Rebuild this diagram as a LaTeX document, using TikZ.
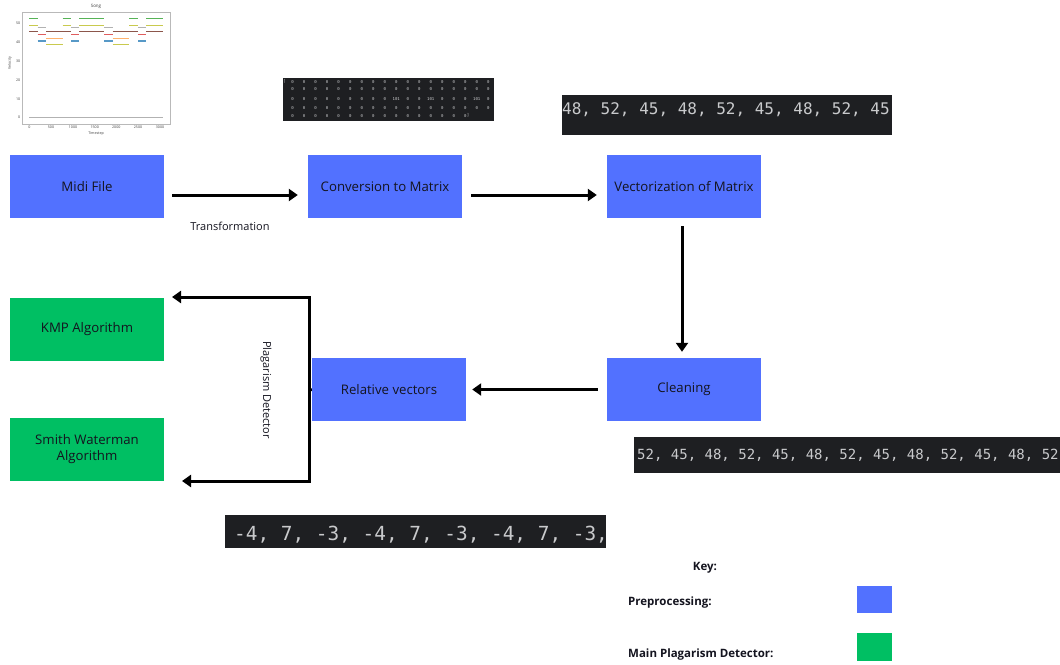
\documentclass[tikz,border=0pt]{standalone}
\usepackage{fontspec}
\setmainfont{Open Sans}
\setmonofont{DejaVu Sans Mono}
\usetikzlibrary{arrows.meta}
\definecolor{pre}{HTML}{5271FF}
\definecolor{det}{HTML}{00BF63}
\definecolor{code}{HTML}{1E1F22}
\definecolor{codetxt}{HTML}{C9CACC}
\definecolor{mblue}{HTML}{1F77B4}
\definecolor{morange}{HTML}{FF7F0E}
\definecolor{mgreen}{HTML}{2CA02C}
\definecolor{mred}{HTML}{D62728}
\definecolor{mbrown}{HTML}{8C564B}
\definecolor{mgray}{HTML}{7F7F7F}
\definecolor{molive}{HTML}{BCBD22}
\definecolor{boxtext}{HTML}{14141F}
\begin{document}
\begin{tikzpicture}[x=1pt,y=-1pt,
  box/.style={minimum width=154pt,minimum height=63pt,inner sep=0pt,text=boxtext,font=\fontsize{13.2}{16}\selectfont,align=center},
  prebox/.style={box,fill=pre},
  detbox/.style={box,fill=det},
  arr/.style={line width=3pt,-{Triangle[length=9pt,width=12pt]}},
  conn/.style={line width=3pt},
  codebg/.style={fill=code},
  codetext/.style={text=codetxt,inner sep=0pt,anchor=base west},
  seg/.style={line width=1.2pt},
  tick/.style={font=\fontsize{3.6}{4}\selectfont,text=black!75,inner sep=0pt},
  mat/.style={font=\ttfamily\fontsize{4}{4}\selectfont,text=codetxt,inner sep=0pt},
  keytext/.style={font=\bfseries\fontsize{11.5}{14}\selectfont,inner sep=0pt,text=boxtext}]
\useasboundingbox[fill=white] (0,0) rectangle (1060,664);

% ---- plot thumbnail ----
\draw[gray!55,line width=0.8pt] (22.7,12.7) rectangle (170,124);
\node[tick,font=\fontsize{4.5}{5}\selectfont] (ptitle) at (96,6.7) {Song};
\foreach \v/\yy in {0/117.7,10/99,20/80.3,30/61.3,40/42.3,50/23.7}
  \node[tick,anchor=east] (yt\v) at (20.5,\yy) {\v};
\foreach \v/\xx in {0/29.3,500/51,1000/73,1500/94.7,2000/116.3,2500/138,3000/160}
  \node[tick] (xt\v) at (\xx,127.5) {\v};
\node[tick,rotate=90] (ylab) at (10,63) {Velocity};
\node[tick] (xlab) at (96,133.3) {Timestep};
\foreach \a/\b in {29.3/37.7,62.7/71.3,79.3/104.3,129.3/138,146/163.3}{
  \draw[seg,mgreen!80] (\a,18.3) -- (\b,18.3);
  \draw[seg,molive!80] (\a,25.3) -- (\b,25.3);}
\foreach \a/\b in {37.7/46,71.3/79.3,104.3/112.7,138/146}{
  \draw[seg,mgray!60] (\a,27.7) -- (\b,27.7);
  \draw[seg,mred!75] (\a,34.7) -- (\b,34.7);
  \draw[seg,mblue!75] (\a,41) -- (\b,41);}
\foreach \a/\b in {29.3/37.7,46/71.3,79.3/104.3,112.7/138,146/163.3}
  \draw[seg,mbrown] (\a,31.3) -- (\b,31.3);
\foreach \a/\b in {46/62.7,112.7/129.3}{
  \draw[seg,morange!60] (\a,38.7) -- (\b,38.7);
  \draw[seg,molive!80] (\a,44.3) -- (\b,44.3);}
\draw[seg,mgray!60] (29.3,117.7) -- (163.3,117.7);

% ---- matrix image ----
\fill[codebg] (283,78) rectangle (494,121);
\node[mat] (br1) at (284.5,81.7) {[};
\foreach \v [count=\i from 0] in {0,0,0,0,0,0,0,0,0,0,0,0,0,0,0,0,0,0}
  \node[mat] (ma\i) at (292.7+11.5*\i,81.7) {\v};
\foreach \v [count=\i from 0] in {0,0,0,0,0,0,0,0,0,0,0,0,0,0,0,0,0,0}
  \node[mat] (mb\i) at (292.7+11.5*\i,89.3) {\v};
\foreach \v [count=\i from 0] in {0,0,0,0,0,0,0,0,0,101,0,0,101,0,0,0,101,0}
  \node[mat] (mc\i) at (292.7+11.5*\i,99) {\v};
\foreach \v [count=\i from 0] in {0,0,0,0,0,0,0,0,0,0,0,0,0,0,0,0,0,0}
  \node[mat] (md\i) at (292.7+11.5*\i,108) {\v};
\foreach \v [count=\i from 0] in {0,0,0,0,0,0,0,0,0,0,0,0,0,0,0,0}
  \node[mat] (me\i) at (292.7+11.5*\i,115.7) {\v};
\node[mat] (br2) at (295.5+11.5*15,115.7) {]};

% ---- code strips ----
\fill[codebg] (562,95) rectangle (892,135);
\node[codetext,font=\ttfamily\fontsize{16}{16}\selectfont] (s1) at (562,114) {48, 52, 45, 48, 52, 45, 48, 52, 45};
\fill[codebg] (634,437) rectangle (1060,473);
\node[codetext,font=\ttfamily\fontsize{14}{14}\selectfont] (s2) at (637,459) {52, 45, 48, 52, 45, 48, 52, 45, 48, 52, 45, 48, 52};
\fill[codebg] (225,515) rectangle (606,548);
\node[codetext,font=\ttfamily\fontsize{19.4}{20}\selectfont] (s3) at (234,540) {-4, 7, -3, -4, 7, -3, -4, 7, -3,};

% ---- boxes ----
\node[prebox] (midi) at (87,186.5) {Midi File};
\node[prebox] (conv) at (385,186.5) {Conversion to Matrix};
\node[prebox] (vect) at (684,186.5) {Vectorization of Matrix};
\node[prebox] (clean) at (684,389.5) {Cleaning};
\node[prebox] (rel) at (389,389.5) {Relative vectors};
\node[detbox] (kmp) at (87,329.5) {KMP Algorithm};
\node[detbox] (sw) at (87,449.5) {Smith Waterman\\Algorithm};

% ---- connectors ----
\draw[arr] ([xshift=8pt,yshift=-8.5pt]midi.east) -- ([xshift=-10pt,yshift=-8.5pt]conv.west);
\draw[arr] ([xshift=9pt,yshift=-8.5pt]conv.east) -- ([xshift=-10pt,yshift=-8.5pt]vect.west);
\draw[arr] ([xshift=-2pt,yshift=-8pt]vect.south) -- ([xshift=-2pt,yshift=6pt]clean.north);
\draw[arr] ([xshift=-9pt]clean.west) -- ([xshift=6pt]rel.east);
\coordinate (jn) at (309,390);
\coordinate (kin) at (172,297);
\coordinate (sin) at (182,481);
\draw[conn] (rel.west) -- (jn);
\draw[arr] (jn) |- (kin);
\draw[arr] (jn) |- (sin);

% ---- labels ----
\node[font=\fontsize{11}{13}\selectfont,text=boxtext] (tlab) at (230,226) {Transformation};
\node[font=\fontsize{11}{13}\selectfont,text=boxtext,rotate=-90] (plab) at (266,390) {Plagarism Detector};

% ---- key ----
\node[keytext] (key) at (705,568) {Key:};
\node[keytext,anchor=west] (kpre) at (628,603) {Preprocessing:};
\node[keytext,anchor=west] (kdet) at (628,655) {Main Plagarism Detector:};
\node[fill=pre,minimum width=35pt,minimum height=27pt,inner sep=0pt] (kpbox) at (874.5,599.5) {};
\node[fill=det,minimum width=35pt,minimum height=28pt,inner sep=0pt] (kdbox) at (874.5,647) {};
\end{tikzpicture}
\end{document}
